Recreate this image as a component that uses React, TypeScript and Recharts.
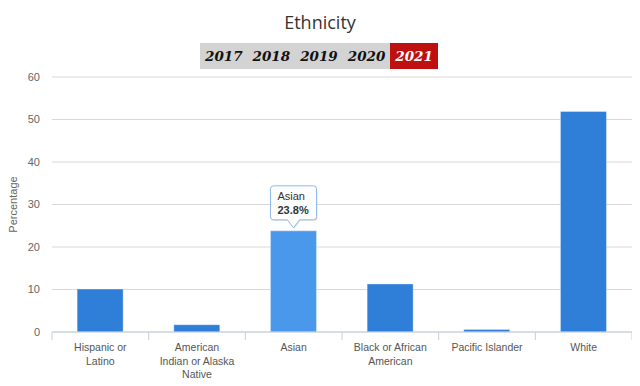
import React from 'react';
import { BarChart, Bar, XAxis, YAxis, CartesianGrid, Cell, LabelList } from 'recharts';

const categories = [
  'Hispanic or Latino',
  'American Indian or Alaska Native',
  'Asian',
  'Black or African American',
  'Pacific Islander',
  'White',
];
const percentages = [10.1, 1.7, 23.8, 11.3, 0.6, 51.9];
const yTicks = [0, 10, 20, 30, 40, 50, 60];
const years = ['2017', '2018', '2019', '2020', '2021'];
const selectedYear = '2021';
const highlighted = 'Asian';

const data = categories.map((name, i) => ({ name, value: percentages[i] }));

const BLUE = '#2f7ed8';
const HOVER = '#4a98ec';
const AXIS = '#c0d0e0';
const FONT = '"Liberation Sans", Arial, sans-serif';
const TICK_SIZE = 10.5;

let ctx: CanvasRenderingContext2D | null = null;
function measure(s: string) {
  if (!ctx) ctx = document.createElement('canvas').getContext('2d');
  if (!ctx) return s.length * TICK_SIZE * 0.5;
  ctx.font = `${TICK_SIZE}px ${FONT}`;
  return ctx.measureText(s).width;
}

// greedy word wrap, like the original chart does
function wrap(label: string, maxWidth: number) {
  const lines: string[] = [];
  let cur = '';
  label.split(' ').forEach((w) => {
    const next = cur ? cur + ' ' + w : w;
    if (cur && measure(next) > maxWidth) {
      lines.push(cur);
      cur = w;
    } else {
      cur = next;
    }
  });
  if (cur) lines.push(cur);
  return lines;
}

function CategoryTick(props: any) {
  const { x, y, payload, index } = props;
  const half = payload && payload.offset ? payload.offset : 48.3;
  const lines = wrap(String(payload.value), 75.6);
  return (
    <g>
      <line x1={x - half} x2={x - half} y1={y - 8} y2={y} stroke={AXIS} />
      {index === categories.length - 1 && (
        <line x1={x + half} x2={x + half} y1={y - 8} y2={y} stroke={AXIS} />
      )}
      <text x={x} y={y + 11} textAnchor="middle" fontSize={TICK_SIZE} fontFamily={FONT} fill="#555">
        {lines.map((l, i) => (
          <tspan key={i} x={x} dy={i === 0 ? 0 : 13.5}>
            {l}
          </tspan>
        ))}
      </text>
    </g>
  );
}

function Callout(props: any) {
  const { x, y, width, value, index } = props;
  if (categories[index] !== highlighted) return null;
  const cx = x + width / 2;
  const w = 46;
  const h = 34;
  const bottom = y - 11;
  const top = bottom - h;
  const left = cx - w / 2;
  const path = `M ${left + 3} ${top} L ${left + w - 3} ${top} Q ${left + w} ${top} ${left + w} ${top + 3} L ${left + w} ${bottom - 3} Q ${left + w} ${bottom} ${left + w - 3} ${bottom} L ${cx + 6} ${bottom} L ${cx} ${y - 3} L ${cx - 6} ${bottom} L ${left + 3} ${bottom} Q ${left} ${bottom} ${left} ${bottom - 3} L ${left} ${top + 3} Q ${left} ${top} ${left + 3} ${top} Z`;
  return (
    <g>
      <path d={path} transform="translate(1,1)" fill="rgba(0,0,0,0.12)" />
      <path d={path} fill="rgba(255,255,255,0.94)" stroke="#8fbbe9" strokeWidth={1} />
      <text x={left + 7} y={top + 14} fontSize={11} fontFamily={FONT} fill="#333">
        {categories[index]}
      </text>
      <text x={left + 7} y={top + 28} fontSize={11} fontWeight="bold" fontFamily={FONT} fill="#333">
        {value}%
      </text>
    </g>
  );
}

export default function App() {
  return (
    <div style={{ position: 'relative', width: 640, height: 386, margin: -8, background: '#fff' }}>
      <div style={{ position: 'absolute', left: 0, right: 0, top: 2, height: 1, background: '#e6e6e6' }} />
      <div
        style={{
          position: 'absolute',
          top: 10,
          left: 0,
          width: 640,
          textAlign: 'center',
          fontFamily: '"Open Sans", sans-serif',
          fontSize: 18,
          color: '#333',
          lineHeight: '24px',
        }}
      >
        Ethnicity
      </div>
      <div
        style={{
          position: 'absolute',
          top: 43,
          left: 200,
          height: 26,
          display: 'flex',
          background: '#d3d3d3',
          fontFamily: '"DejaVu Serif", Georgia, serif',
          fontStyle: 'italic',
          fontWeight: 'bold',
          fontSize: 13.5,
          lineHeight: '26px',
        }}
      >
        {years.map((yr) => (
          <span
            key={yr}
            style={{
              padding: '0 5px',
              color: yr === selectedYear ? '#fff' : '#111',
              background: yr === selectedYear ? '#bf1010' : 'transparent',
            }}
          >
            {yr}
          </span>
        ))}
      </div>
      <div style={{ position: 'absolute', top: 0, left: 0 }}>
        <BarChart
          width={640}
          height={386}
          data={data}
          margin={{ top: 77, right: 8, bottom: 0, left: 0 }}
          barCategoryGap="26%"
        >
          <CartesianGrid vertical={false} stroke="#d8d8d8" />
          <XAxis
            dataKey="name"
            interval={0}
            height={54}
            stroke={AXIS}
            tickLine={false}
            tick={<CategoryTick />}
          />
          <YAxis
            width={52}
            domain={[0, 60]}
            ticks={yTicks}
            axisLine={false}
            tickLine={false}
            tickMargin={6}
            tick={{ fontSize: 11, fill: '#666', fontFamily: FONT }}
            label={{
              value: 'Percentage',
              angle: -90,
              position: 'insideLeft',
              dx: 8,
              style: { fontSize: 11, fill: '#666', fontFamily: FONT, textAnchor: 'middle' },
            }}
          />
          <Bar dataKey="value" isAnimationActive={false} stroke="#ffffff" strokeOpacity={0.35}>
            {data.map((d) => (
              <Cell key={d.name} fill={d.name === highlighted ? HOVER : BLUE} />
            ))}
            <LabelList dataKey="value" content={<Callout />} />
          </Bar>
        </BarChart>
      </div>
    </div>
  );
}
